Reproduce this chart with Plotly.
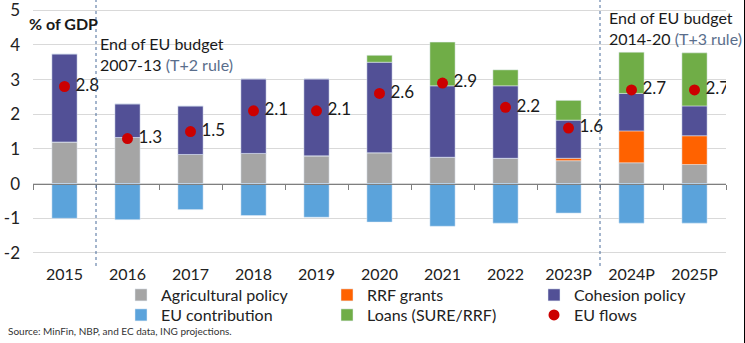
import plotly.graph_objects as go

years = ["2015", "2016", "2017", "2018", "2019", "2020", "2021", "2022", "2023P", "2024P", "2025P"]
agricultural = [1.20, 1.33, 0.84, 0.87, 0.80, 0.89, 0.76, 0.73, 0.66, 0.60, 0.55]
rrf_grants = [0, 0, 0, 0, 0, 0, 0, 0, 0.07, 0.92, 0.83]
cohesion = [2.54, 0.97, 1.40, 2.15, 2.22, 2.61, 2.06, 2.09, 1.10, 1.08, 0.86]
eu_contribution = [-1.00, -1.04, -0.75, -0.92, -0.97, -1.11, -1.23, -1.14, -0.85, -1.14, -1.14]
loans = [0, 0, 0, 0, 0, 0.20, 1.26, 0.46, 0.57, 1.19, 1.53]
eu_flows = [2.8, 1.3, 1.5, 2.1, 2.1, 2.6, 2.9, 2.2, 1.6, 2.7, 2.7]
y_ticks = [-2, -1, 0, 1, 2, 3, 4, 5]
y_ticktext = ["-2", "-1", "0", "1", "2", "3", "4", "5"]
budget_ends = ["2015", "2023P"]

W, H = 745, 343
ML, MR, MT, MB = 33, 19, 5, 89
pw, ph = W - ML - MR, H - MT - MB
ymin, ymax = -2.03, 5.15

def px_x(p):
    return (p - ML) / pw

def px_y(p):
    return (H - MB - p) / ph

FONT = "Lato"
C_AGRI = "#A5A5A5"
C_RRF = "#FF6200"
C_COH = "#525096"
C_EU = "#5BA3DB"
C_LOAN = "#70AD47"
C_DOT = "#CC0000"

# legend placement (column text-start px, row centre px)
col_px = [121, 327, 534]
row_px = [295, 315]

fig = go.Figure()
fig.add_bar(x=years, y=agricultural, name="Agricultural policy", marker_color=C_AGRI, width=0.4, legend="legend")
fig.add_bar(x=years, y=rrf_grants, name="RRF grants", marker_color=C_RRF, width=0.4, legend="legend2")
fig.add_bar(x=years, y=cohesion, name="Cohesion policy", marker_color=C_COH, width=0.4, legend="legend3")
fig.add_bar(x=years, y=eu_contribution, name="EU contribution", marker_color=C_EU, width=0.4, legend="legend4")
fig.add_bar(x=years, y=loans, name="Loans (SURE/RRF)", marker_color=C_LOAN, width=0.4, legend="legend5")
fig.add_scatter(x=years, y=eu_flows, name="EU flows", mode="markers", xaxis="x2",
                marker=dict(color=C_DOT, size=11), legend="legend6")
fig.add_scatter(x=years, y=eu_flows, mode="markers+text", xaxis="x2", showlegend=False,
                marker=dict(size=16, color="rgba(0,0,0,0)"),
                text=[f"{v:.1f}" for v in eu_flows], textposition="middle right",
                textfont=dict(family=FONT, size=17, color="#1a1a1a"))

fig.update_layout(
    width=W, height=H, margin=dict(l=ML, r=MR, t=MT, b=MB, autoexpand=False),
    barmode="relative", plot_bgcolor="white", paper_bgcolor="white",
    font=dict(family=FONT, size=15, color="#222"),
    xaxis=dict(type="category", categoryorder="array", categoryarray=years,
               range=[-0.5, len(years) - 0.5], showgrid=False, showline=False,
               ticks="outside", ticklen=6, tickcolor="rgba(0,0,0,0)",
               tickfont=dict(family=FONT, size=16, color="#222")),
    xaxis2=dict(type="category", categoryorder="array", categoryarray=years,
                matches="x", overlaying="x", anchor="free",
                position=(0 - ymin) / (ymax - ymin), side="bottom",
                showline=True, linecolor="#7F7F7F", linewidth=1,
                ticks="outside", ticklen=5, tickcolor="#7F7F7F", tickson="boundaries",
                showticklabels=False, showgrid=False),
    yaxis=dict(range=[ymin, ymax], tickvals=y_ticks, ticktext=y_ticktext,
               showgrid=True, gridcolor="#D9D9D9", zeroline=False, ticklabeloverflow="allow",
               tickfont=dict(family=FONT, size=17, color="#222"), ticks="", ticklabelstandoff=12),
)

leg_common = dict(orientation="v", yanchor="middle", xanchor="left", itemwidth=30,
                  font=dict(family=FONT, size=16, color="#222"), tracegroupgap=0,
                  bgcolor="rgba(0,0,0,0)", itemclick=False)
legend_keys = ["legend", "legend2", "legend3", "legend4", "legend5", "legend6"]
for i, key in enumerate(legend_keys):
    r, c = divmod(i, 3)
    fig.update_layout({key: dict(x=px_x(col_px[c]), y=px_y(row_px[r]), **leg_common)})

# budget end dashed lines
for b in budget_ends:
    xi = years.index(b) + 0.5
    fig.add_shape(type="line", xref="x", yref="paper", x0=xi, x1=xi,
                  y0=px_y(266), y1=px_y(0), line=dict(color="#4A6C9B", width=1, dash="dot"))

fig.add_annotation(xref="x", yref="y", x=years.index("2015") + 0.5, y=3.75, xshift=2,
                   xanchor="left", yanchor="middle", align="left", showarrow=False,
                   text="End of EU budget<br>2007-13 <span style='color:#5A6E8C'>(T+2 rule)</span>",
                   font=dict(family=FONT, size=16, color="#1a1a1a"))
fig.add_annotation(xref="x", yref="y", x=years.index("2023P") + 0.5, y=4.5, xshift=7,
                   xanchor="left", yanchor="middle", align="left", showarrow=False,
                   text="End of EU budget<br>2014-20 <span style='color:#5A6E8C'>(T+3 rule)</span>",
                   font=dict(family=FONT, size=16, color="#1a1a1a"))
fig.add_annotation(xref="paper", yref="paper", x=px_x(27), y=px_y(23), xanchor="left", yanchor="middle",
                   showarrow=False, text="<b>% of GDP</b>",
                   font=dict(family=FONT, size=16, color="#1a1a1a"))
fig.add_annotation(xref="paper", yref="paper", x=px_x(6), y=px_y(331), xanchor="left", yanchor="middle",
                   showarrow=False, text="Source: MinFin, NBP, and EC data, ING projections.",
                   font=dict(family=FONT, size=10, color="#333"))
fig.add_shape(type="line", xref="paper", yref="paper", x0=px_x(744.5), x1=px_x(744.5),
              y0=px_y(343), y1=px_y(0), line=dict(color="#000", width=1))

fig.write_html("out.html")
